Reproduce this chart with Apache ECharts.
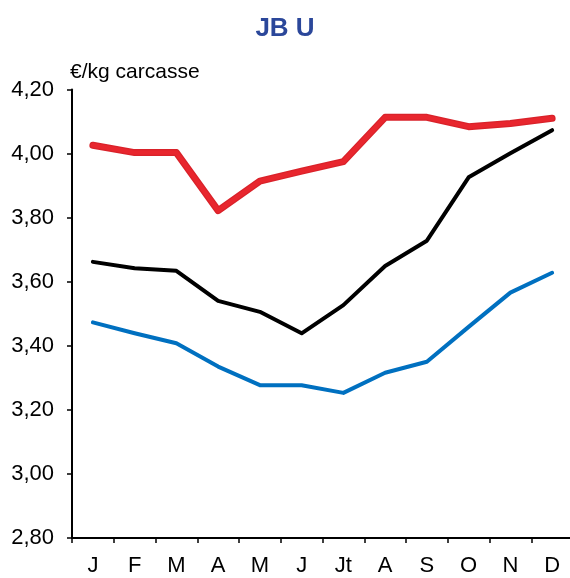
<!DOCTYPE html>
<html><head><meta charset="utf-8">
<script src="https://cdn.jsdelivr.net/npm/echarts@6/dist/echarts.min.js"></script>
<style>html,body{margin:0;padding:0;background:#fff}#c{width:570px;height:578px}</style>
</head><body><div id="c"></div>
<script>
var categories = ['J','F','M','A','M','J','Jt','A','S','O','N','D'];
var redSeries = [4.026, 4.003, 4.003, 3.822, 3.914, 3.945, 3.975, 4.113, 4.113, 4.084, 4.094, 4.110];
var blackSeries = [3.662, 3.642, 3.634, 3.540, 3.506, 3.439, 3.527, 3.649, 3.728, 3.926, 4.001, 4.073];
var blueSeries = [3.473, 3.439, 3.408, 3.335, 3.277, 3.277, 3.253, 3.316, 3.350, 3.459, 3.566, 3.628];
var titleText = 'JB U';
var unitText = '€/kg carcasse';
var yMin = 2.8, yMax = 4.2, yStep = 0.2;

var FONT = '"Liberation Sans", Arial, sans-serif';
var chart = echarts.init(document.getElementById('c'));
function line(data, color, width, z) {
  return { type: 'line', data: data, symbol: 'none', smooth: false, z: z,
    lineStyle: { color: color, width: width, cap: 'round', join: 'round' } };
}
chart.setOption({
  animation: false,
  title: { text: titleText, left: 'center', top: 11,
    textStyle: { color: '#2b479a', fontSize: 26, fontWeight: 'bold', fontFamily: FONT } },
  graphic: [{ type: 'text', left: 70, top: 62,
    style: { text: unitText, font: '21px ' + FONT, fill: '#000' } }],
  grid: { left: 72, right: -3, top: 89.5, bottom: 40, containLabel: false, outerBoundsMode: 'none' },
  xAxis: { type: 'category', data: categories, boundaryGap: true,
    axisLine: { lineStyle: { color: '#000', width: 2 } },
    axisTick: { show: true, length: 5, lineStyle: { color: '#000', width: 1.5 } },
    axisLabel: { color: '#000', fontSize: 22, fontFamily: FONT, margin: 17 },
    splitLine: { show: false } },
  yAxis: { type: 'value', min: yMin, max: yMax, interval: yStep,
    axisLine: { show: true, lineStyle: { color: '#000', width: 2 } },
    axisTick: { show: true, length: 5, lineStyle: { color: '#000', width: 1.5 } },
    axisLabel: { color: '#000', fontSize: 22, fontFamily: FONT, margin: 18,
      formatter: function (v) { return v.toFixed(2).replace('.', ','); } },
    splitLine: { show: false } },
  series: [
    line(blueSeries, '#0070c0', 4, 2),
    line(blackSeries, '#000000', 4, 3),
    line(redSeries, '#d9222a', 7, 4),
    line(redSeries, '#e8262e', 4.5, 5)
  ]
});
</script></body></html>
